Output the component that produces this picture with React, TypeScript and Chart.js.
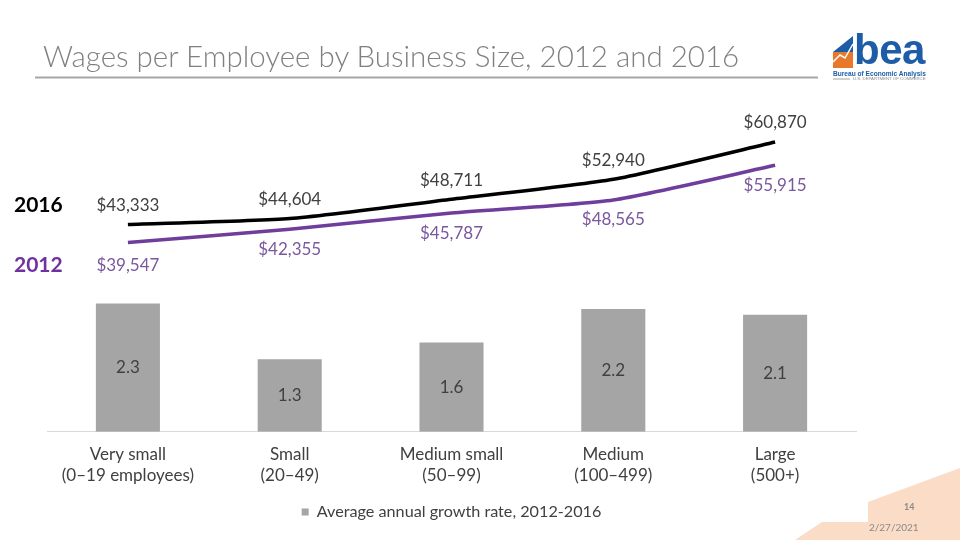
import React, { useEffect, useRef } from "react";
import { Chart, registerables } from "chart.js";

Chart.register(...registerables);

const categories: string[][] = [
  ["Very small", "(0–19 employees)"],
  ["Small", "(20–49)"],
  ["Medium small", "(50–99)"],
  ["Medium", "(100–499)"],
  ["Large", "(500+)"],
];
const wages2016: number[] = [43333, 44604, 48711, 52940, 60870];
const wages2012: number[] = [39547, 42355, 45787, 48565, 55915];
const growthRate: number[] = [2.3, 1.3, 1.6, 2.2, 2.1];
const growthLabel = "Average annual growth rate, 2012-2016";
const titleText = "Wages per Employee by Business Size, 2012 and 2016";

const FONT = "Lato, 'Open Sans', sans-serif";
const PURPLE_LINE = "#6f3d9c";
const PURPLE_TEXT = "#7a579f";
const TEXT_DARK = "#404040";
const BAR_GRAY = "#a5a5a5";

const labelPlugin = {
  id: "valueLabels",
  afterDatasetsDraw(chart: any) {
    const ctx = chart.ctx;
    ctx.save();
    ctx.textAlign = "center";
    ctx.textBaseline = "middle";
    chart.data.datasets.forEach((ds: any, di: number) => {
      const meta = chart.getDatasetMeta(di);
      meta.data.forEach((el: any, i: number) => {
        const v = ds.data[i];
        if (ds.type === "bar") {
          ctx.font = `17px ${FONT}`;
          ctx.fillStyle = TEXT_DARK;
          ctx.fillText(v.toFixed(1), el.x, (el.y + el.base) / 2);
        } else {
          const above = ds.label === "2016";
          ctx.font = `17px ${FONT}`;
          ctx.fillStyle = above ? TEXT_DARK : PURPLE_TEXT;
          const ty = above ? el.y - 19 : el.y + 20 + (i === 0 ? 3 : 0);
          ctx.fillText("$" + v.toLocaleString("en-US"), el.x, ty);
          if (i === 0) {
            ctx.save();
            ctx.textAlign = "left";
            ctx.font = `bold 21px ${FONT}`;
            ctx.fillStyle = above ? "#000000" : "#7030a0";
            ctx.fillText(ds.label, 14, ty);
            ctx.restore();
          }
        }
      });
    });
    ctx.restore();
  },
};

function ChartCanvas() {
  const ref = useRef<HTMLCanvasElement | null>(null);
  useEffect(() => {
    if (!ref.current) return;
    const chart = new Chart(ref.current, {
      type: "bar",
      data: {
        labels: categories,
        datasets: [
          {
            type: "line",
            label: "2016",
            data: wages2016,
            yAxisID: "y2",
            borderColor: "#000000",
            backgroundColor: "#000000",
            borderWidth: 3.5,
            pointRadius: 0,
            tension: 0.2,
          } as any,
          {
            type: "line",
            label: "2012",
            data: wages2012,
            yAxisID: "y2",
            borderColor: PURPLE_LINE,
            backgroundColor: PURPLE_LINE,
            borderWidth: 3.5,
            pointRadius: 0,
            tension: 0.2,
          } as any,
          {
            type: "bar",
            label: growthLabel,
            data: growthRate,
            yAxisID: "y",
            backgroundColor: BAR_GRAY,
            categoryPercentage: 1,
            barPercentage: 0.396,
          } as any,
        ],
      },
      options: {
        responsive: false,
        animation: false,
        layout: { padding: { left: 47, right: 104, top: 100, bottom: 10 } },
        plugins: {
          tooltip: { enabled: false },
          legend: {
            position: "bottom",
            fullSize: false,
            labels: {
              filter: (item: any) => item.datasetIndex === 2,
              boxWidth: 7,
              boxHeight: 7,
              color: TEXT_DARK,
              font: { family: FONT, size: 16.2 },
              padding: 10,
            },
          },
        },
        scales: {
          x: {
            grid: { display: false, drawTicks: false },
            border: { display: true, color: "#d9d9d9", width: 1 },
            ticks: {
              color: TEXT_DARK,
              font: { family: FONT, size: 17, lineHeight: 1.25 },
              padding: 12,
              maxRotation: 0,
              autoSkip: false,
            },
            afterFit: (scale: any) => {
              scale.height = 62;
            },
          },
          y: { display: false, min: 0, max: 5.95 },
          y2: { display: false, min: -650, max: 69780 },
        },
      },
      plugins: [labelPlugin],
    });
    return () => chart.destroy();
  }, []);
  return (
    <canvas
      ref={ref}
      width={960}
      height={540}
      style={{ position: "absolute", left: 0, top: 0, width: 960, height: 540 }}
    />
  );
}

export default function App() {
  useEffect(() => {
    document.body.style.margin = "0";
  }, []);
  return (
    <div
      style={{
        position: "relative",
        width: 960,
        height: 540,
        overflow: "hidden",
        background: "#ffffff",
        fontFamily: FONT,
      }}
    >
      <svg
        width={960}
        height={540}
        style={{ position: "absolute", left: 0, top: 0 }}
      >
        <polygon
          points="795,540 822,522 868,522 868,502 960,468 960,540"
          fill="#fbdcc6"
        />
        <line x1={35} y1={77.5} x2={818} y2={77.5} stroke="#a6a6a6" strokeWidth={2} />
        {/* logo icon */}
        <rect x={833} y={52} width={20} height={16} fill="#e8782a" />
        <polygon points="833,52 853,36 853,52" fill="#1d5da8" />
        <polyline
          points="833,62 840,55 845,58 853,44"
          fill="none"
          stroke="#ffffff"
          strokeWidth={1.5}
        />
        <line x1={833} y1={79} x2={850} y2={79} stroke="#8a8a8a" strokeWidth={0.8} />
      </svg>
      <ChartCanvas />
      <div
        style={{
          position: "absolute",
          left: 43,
          top: 38,
          fontSize: 29.5,
          fontWeight: 300,
          color: "#808080",
          whiteSpace: "nowrap",
          lineHeight: "36px",
        }}
      >
        {titleText}
      </div>
      <div
        style={{
          position: "absolute",
          left: 854,
          top: 26,
          fontFamily: "'Liberation Sans', Arial, sans-serif",
          fontWeight: 700,
          fontSize: 42,
          color: "#1d5da8",
          lineHeight: "48px",
          letterSpacing: -0.5,
        }}
      >
        bea
      </div>
      <div
        style={{
          position: "absolute",
          left: 833,
          top: 70,
          fontFamily: "'Liberation Sans', Arial, sans-serif",
          fontWeight: 700,
          fontSize: 6.6,
          color: "#1d5da8",
          whiteSpace: "nowrap",
          lineHeight: "8px",
        }}
      >
        Bureau of Economic Analysis
      </div>
      <div
        style={{
          position: "absolute",
          left: 853,
          top: 76,
          fontFamily: "'Liberation Sans', Arial, sans-serif",
          fontSize: 4.3,
          color: "#8a8a8a",
          whiteSpace: "nowrap",
          lineHeight: "6px",
        }}
      >
        U.S. DEPARTMENT OF COMMERCE
      </div>
      <div
        style={{
          position: "absolute",
          left: 904,
          top: 501,
          fontSize: 9,
          fontWeight: 700,
          color: "#8a8a8a",
          lineHeight: "12px",
        }}
      >
        14
      </div>
      <div
        style={{
          position: "absolute",
          left: 869,
          top: 520,
          fontSize: 10,
          color: "#8a8a8a",
          lineHeight: "14px",
        }}
      >
        2/27/2021
      </div>
    </div>
  );
}
